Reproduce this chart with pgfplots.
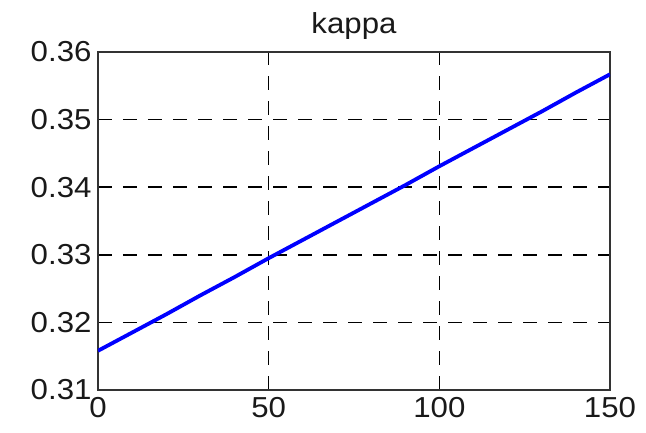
\documentclass[border=0pt]{standalone}
\usepackage{fontspec}
\setmainfont{Liberation Sans}[FakeStretch=1.08]
\usepackage{pgfplots}
\pgfplotsset{compat=1.18}
\begin{document}
\begin{tikzpicture}
\useasboundingbox (-98bp,-43bp) rectangle (548bp,390bp);
\begin{axis}[
  at={(0,0)}, anchor=south west,
  scale only axis,
  width=512bp, height=338bp,
  xmin=0, xmax=150, ymin=0.31, ymax=0.36,
  xtick={0,50,100,150},
  ytick={0.31,0.32,0.33,0.34,0.35,0.36},
  y tick label style={/pgf/number format/fixed, /pgf/number format/precision=2, /pgf/number format/fixed zerofill},
  /pgf/number format/assume math mode=true,
  tick label style={font=\fontsize{29}{32}\selectfont, text=black!90},
  xticklabel style={yshift=-4bp},
  yticklabel style={xshift=-3bp},
  title={kappa},
  title style={font=\fontsize{29}{32}\selectfont, text=black!90, yshift=3bp},
  tick align=inside,
  major tick length=6bp,
  tick style={black, line width=1.5bp},
  axis line style={draw=black!80, line width=2.3bp},
  grid=major,
  major grid style={black, line width=1.6bp, dash pattern=on 14bp off 11bp},
  clip=true,
]
\addplot[color={rgb,255:red,0;green,0;blue,255}, line width=3.8bp] coordinates {
  (0,0.3158) (10,0.3185) (20,0.3212) (30,0.3240) (40,0.3267) (50,0.3295)
  (60,0.3322) (70,0.3349) (80,0.3376) (90,0.3403) (100,0.3431)
  (110,0.3458) (120,0.3485) (130,0.3512) (140,0.3540) (150,0.3567)
};
\end{axis}
\end{tikzpicture}
\end{document}
